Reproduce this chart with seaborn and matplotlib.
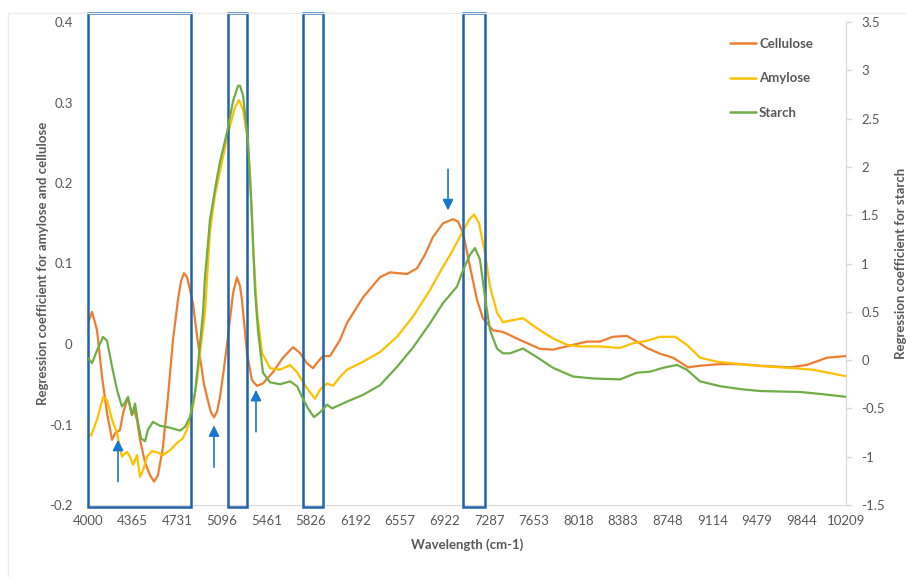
import matplotlib
matplotlib.use("Agg")
import matplotlib.pyplot as plt
import seaborn as sns
import pandas as pd
from matplotlib.patches import Rectangle
from matplotlib.lines import Line2D

# ---------------- data ----------------
cel_wn = [4000, 4033, 4074, 4115, 4156, 4197, 4221, 4262, 4287, 4319, 4336, 4360, 4377, 4401,
          4426, 4467, 4508, 4541, 4573, 4614, 4655, 4696, 4737, 4762, 4786, 4811, 4835, 4860,
          4893, 4917, 4950, 4975, 5007, 5032, 5057, 5081, 5114, 5147, 5188, 5220, 5245, 5261,
          5302, 5343, 5384, 5433, 5515, 5597, 5679, 5736, 5794, 5843, 5884, 5925, 5982, 6064,
          6121, 6253, 6392, 6474, 6539, 6613, 6695, 6760, 6826, 6908, 6990, 7031, 7072, 7129,
          7186, 7235, 7317, 7399, 7539, 7702, 7809, 7973, 8087, 8194, 8300, 8415, 8497, 8579,
          8685, 8792, 8915, 9013, 9177, 9341, 9504, 9750, 9889, 10053, 10209]
cellulose = [0.026, 0.040, 0.017, -0.041, -0.086, -0.119, -0.111, -0.107, -0.086, -0.070, -0.072,
             -0.088, -0.082, -0.094, -0.119, -0.147, -0.163, -0.171, -0.163, -0.128, -0.066, 0.005,
             0.055, 0.078, 0.088, 0.083, 0.068, 0.050, 0.010, -0.016, -0.050, -0.066, -0.085,
             -0.091, -0.084, -0.066, -0.030, 0.010, 0.063, 0.083, 0.072, 0.055, -0.011, -0.045,
             -0.052, -0.049, -0.035, -0.017, -0.004, -0.011, -0.024, -0.030, -0.022, -0.015,
             -0.015, 0.005, 0.026, 0.058, 0.083, 0.089, 0.088, 0.087, 0.094, 0.111, 0.133, 0.150,
             0.155, 0.152, 0.138, 0.096, 0.055, 0.032, 0.017, 0.015, 0.005, -0.006, -0.007,
             -0.001, 0.003, 0.003, 0.009, 0.010, 0.003, -0.005, -0.012, -0.017, -0.029, -0.027,
             -0.025, -0.025, -0.027, -0.029, -0.026, -0.017, -0.015]

amy_wn = [4000, 4025, 4074, 4123, 4156, 4197, 4238, 4278, 4303, 4319, 4344, 4369, 4401, 4426,
          4451, 4483, 4524, 4573, 4614, 4672, 4729, 4778, 4819, 4860, 4893, 4926, 4958, 4999,
          5040, 5081, 5147, 5204, 5237, 5270, 5302, 5327, 5352, 5384, 5425, 5491, 5573, 5655,
          5712, 5794, 5859, 5900, 5958, 6007, 6064, 6121, 6253, 6392, 6531, 6662, 6801, 6908,
          6990, 7063, 7121, 7162, 7203, 7252, 7293, 7350, 7399, 7457, 7563, 7702, 7809, 7924,
          8030, 8194, 8358, 8464, 8579, 8685, 8808, 8906, 9013, 9152, 9341, 9562, 9775, 9938,
          10209]
amylose = [-0.111, -0.114, -0.094, -0.066, -0.070, -0.094, -0.111, -0.140, -0.136, -0.134,
           -0.140, -0.150, -0.138, -0.165, -0.157, -0.140, -0.133, -0.135, -0.138, -0.132,
           -0.123, -0.117, -0.103, -0.078, -0.045, 0.000, 0.038, 0.140, 0.185, 0.214, 0.262,
           0.294, 0.303, 0.291, 0.260, 0.212, 0.120, 0.042, -0.011, -0.030, -0.032, -0.026,
           -0.035, -0.055, -0.068, -0.057, -0.049, -0.052, -0.041, -0.032, -0.022, -0.010,
           0.009, 0.034, 0.067, 0.096, 0.117, 0.138, 0.154, 0.161, 0.150, 0.113, 0.071, 0.039,
           0.027, 0.029, 0.032, 0.017, 0.007, -0.001, -0.003, -0.003, -0.005, 0.001, 0.004,
           0.009, 0.009, -0.001, -0.017, -0.022, -0.025, -0.028, -0.030, -0.032, -0.040]

sta_wn = [4000, 4033, 4074, 4123, 4156, 4197, 4238, 4278, 4303, 4328, 4360, 4385, 4410, 4434,
          4467, 4491, 4532, 4590, 4672, 4754, 4795, 4835, 4876, 4901, 4942, 4958, 4999, 5057,
          5081, 5139, 5188, 5229, 5245, 5270, 5311, 5343, 5368, 5393, 5433, 5491, 5573, 5655,
          5712, 5753, 5802, 5851, 5892, 5917, 5958, 5999, 6121, 6253, 6392, 6531, 6662, 6801,
          6908, 7022, 7072, 7129, 7170, 7211, 7252, 7293, 7350, 7399, 7457, 7563, 7678, 7809,
          7973, 8137, 8358, 8497, 8603, 8710, 8825, 8906, 9013, 9177, 9341, 9504, 9832, 9996,
          10209]
starch = [0.02, -0.03, 0.10, 0.24, 0.20, -0.07, -0.31, -0.48, -0.44, -0.38, -0.57, -0.45,
          -0.65, -0.81, -0.84, -0.72, -0.64, -0.68, -0.70, -0.73, -0.69, -0.59, -0.34, -0.05,
          0.49, 0.85, 1.45, 1.89, 2.05, 2.36, 2.68, 2.84, 2.84, 2.74, 2.26, 1.50, 0.72, 0.30,
          -0.13, -0.23, -0.25, -0.22, -0.27, -0.38, -0.50, -0.59, -0.55, -0.52, -0.46, -0.50,
          -0.43, -0.36, -0.26, -0.07, 0.13, 0.38, 0.59, 0.76, 0.93, 1.09, 1.16, 1.04, 0.65,
          0.31, 0.12, 0.07, 0.07, 0.12, 0.03, -0.08, -0.17, -0.19, -0.20, -0.13, -0.12, -0.08,
          -0.05, -0.10, -0.22, -0.27, -0.30, -0.32, -0.33, -0.35, -0.38]

x_ticks = [4000, 4365, 4731, 5096, 5461, 5826, 6192, 6557, 6922, 7287, 7653, 8018, 8383,
           8748, 9114, 9479, 9844, 10209]
left_ticks = [-0.2, -0.1, 0, 0.1, 0.2, 0.3, 0.4]
left_labels = ["-0.2", "-0.1", "0", "0.1", "0.2", "0.3", "0.4"]
right_ticks = [-1.5, -1, -0.5, 0, 0.5, 1, 1.5, 2, 2.5, 3, 3.5]
right_labels = ["-1.5", "-1", "-0.5", "0", "0.5", "1", "1.5", "2", "2.5", "3", "3.5"]

# highlighted wavenumber bands (start, end)
bands = [(4000, 4844), (5147, 5302), (5761, 5925), (7072, 7252)]
# arrows: (wavenumber, tail value, tip value) on left axis
arrows = [(4246, -0.171, -0.119), (5032, -0.153, -0.101), (5376, -0.109, -0.057),
          (6949, 0.217, 0.166)]

# ---------------- style ----------------
sns.set_style("white")
plt.rcParams["font.family"] = ["Lato", "DejaVu Sans"]
GRAY = "#595959"
C_CEL, C_AMY, C_STA = "#ED7D31", "#FFC000", "#70AD47"
BOX = "#2163A8"
FS = 9.5

fig = plt.figure(figsize=(9.06, 5.77), dpi=100)
ax = fig.add_axes([88 / 906, 1 - 505 / 577, (846 - 88) / 906, (505 - 22) / 577])
ax2 = ax.twinx()

df_c = pd.DataFrame({"wn": cel_wn, "v": cellulose})
df_a = pd.DataFrame({"wn": amy_wn, "v": amylose})
df_s = pd.DataFrame({"wn": sta_wn, "v": starch})

sns.lineplot(data=df_c, x="wn", y="v", ax=ax, color=C_CEL, lw=1.6, legend=False, sort=False)
sns.lineplot(data=df_a, x="wn", y="v", ax=ax, color=C_AMY, lw=1.6, legend=False, sort=False)
sns.lineplot(data=df_s, x="wn", y="v", ax=ax2, color=C_STA, lw=1.6, legend=False, sort=False)

ax.set_xlim(4000, 10209)
ax.set_ylim(-0.2, 0.4)
ax2.set_ylim(-1.5, 3.5)

ax.set_xticks(x_ticks)
ax.set_xticklabels([str(t) for t in x_ticks])
ax.set_yticks(left_ticks)
ax.set_yticklabels(left_labels)
ax2.set_yticks(right_ticks)
ax2.set_yticklabels(right_labels)

for a in (ax, ax2):
    for s in ("top", "left"):
        a.spines[s].set_visible(False)
    a.spines["bottom"].set_color("#d9d9d9")
    a.spines["right"].set_color("#d9d9d9")
ax.spines["right"].set_visible(False)
ax2.spines["bottom"].set_visible(False)

ax.tick_params(axis="x", length=0, pad=7, labelsize=FS, labelcolor=GRAY)
ax.tick_params(axis="y", length=0, pad=11, labelsize=FS, labelcolor=GRAY)
ax2.tick_params(axis="y", length=4, color="#d9d9d9", width=1, pad=7, labelsize=FS,
                labelcolor=GRAY)

ax.set_xlabel("Wavelength (cm-1)", fontsize=FS, color=GRAY, fontweight="bold", labelpad=8)
ax.set_ylabel("Regression coefficient for amylose and cellulose", fontsize=FS, color=GRAY,
              fontweight="bold", labelpad=0)
ax2.set_ylabel("Regression coefficient for starch", fontsize=FS, color=GRAY,
               fontweight="bold", labelpad=7)

# highlighted bands
for x0, x1 in bands:
    ax.add_patch(Rectangle((x0, -0.202), x1 - x0, 0.613, fill=False, edgecolor=BOX,
                           lw=1.8, clip_on=False, zorder=5))

# arrows
for xw, y0, y1 in arrows:
    ax.annotate("", xy=(xw, y1), xytext=(xw, y0),
                arrowprops=dict(arrowstyle="-|>", color="#1878D0", lw=1.2,
                                mutation_scale=16, shrinkA=0, shrinkB=0), zorder=6)

# chart border (top and left)
fig.add_artist(Line2D([8 / 906, 8 / 906], [0, 1 - 13 / 577], transform=fig.transFigure,
                      color="#ececec", lw=1))
fig.add_artist(Line2D([8 / 906, 1], [1 - 13 / 577, 1 - 13 / 577], transform=fig.transFigure,
                      color="#ececec", lw=1))

# legend
handles = [Line2D([], [], color=C_CEL, lw=1.8), Line2D([], [], color=C_AMY, lw=1.8),
           Line2D([], [], color=C_STA, lw=1.8)]
leg = fig.legend(handles, ["Cellulose", "Amylose", "Starch"], loc="upper left",
                 bbox_to_anchor=(730 / 906, 1 - 38 / 577), frameon=False, fontsize=FS,
                 labelspacing=1.7, handlelength=2.0, handletextpad=0.2, borderpad=0,
                 borderaxespad=0)
for t in leg.get_texts():
    t.set_color(GRAY)
    t.set_fontweight("bold")

fig.savefig("out.png", dpi=100)
